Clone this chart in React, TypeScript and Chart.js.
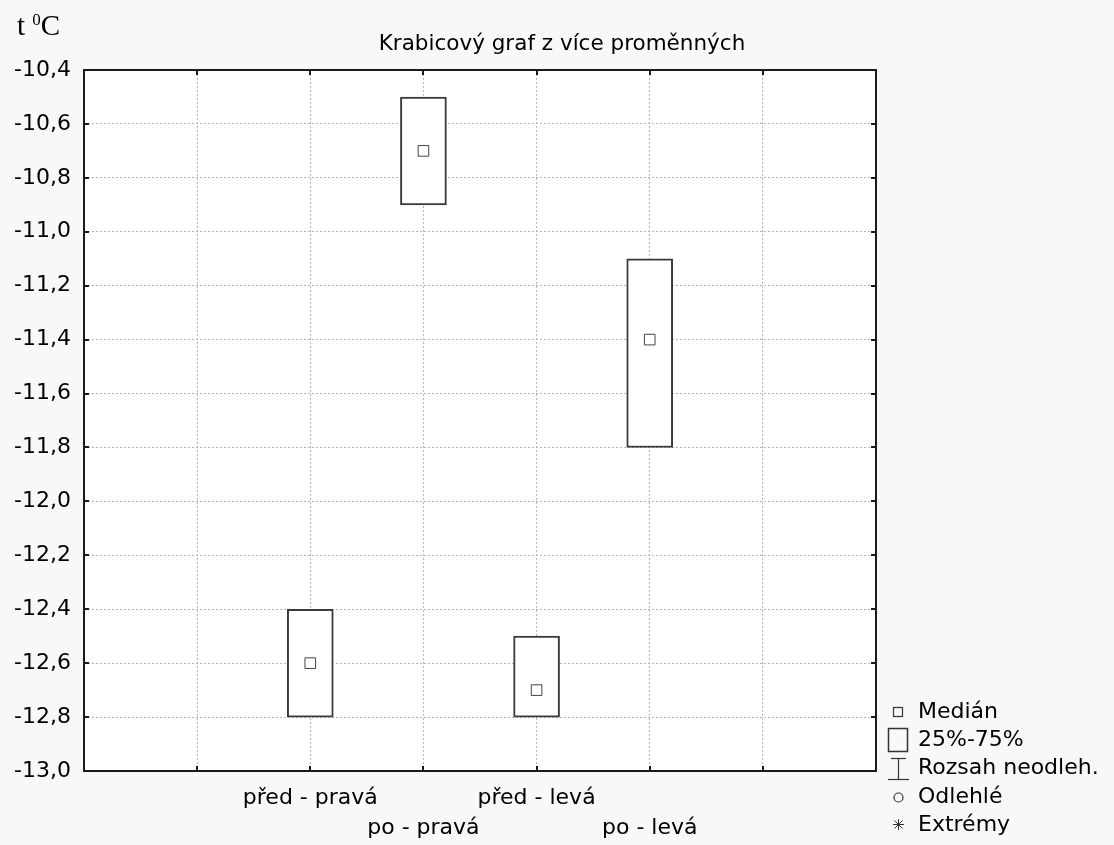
import React, { useEffect, useRef } from "react";
import { Chart, registerables } from "chart.js";

Chart.register(...registerables);

const TITLE = "Krabicový graf z více proměnných";
const CATEGORIES = ["před - pravá", "po - pravá", "před - levá", "po - levá"];
const CAT_POS = [2, 3, 4, 5];
const Q25 = [-12.8, -10.9, -12.8, -11.8];
const Q75 = [-12.4, -10.5, -12.5, -11.1];
const MEDIAN = [-12.6, -10.7, -12.7, -11.4];
const X_TICKS = [0, 1, 2, 3, 4, 5, 6, 7];
const Y_TICKS = [-13.0, -12.8, -12.6, -12.4, -12.2, -12.0, -11.8, -11.6, -11.4, -11.2, -11.0, -10.8, -10.6, -10.4];
const LEGEND = ["Medián", "25%-75%", "Rozsah neodleh.", "Odlehlé", "Extrémy"];

const FONT = "'DejaVu Sans', sans-serif";

const framePlugin = {
  id: "frame",
  beforeDraw(chart: any) {
    const { ctx, chartArea: a } = chart;
    ctx.save();
    ctx.fillStyle = "#ffffff";
    ctx.fillRect(a.left, a.top, a.right - a.left, a.bottom - a.top);
    ctx.restore();
  },
  afterDraw(chart: any) {
    const { ctx, chartArea: a } = chart;
    const xs = chart.scales.x;
    const ys = chart.scales.y;
    ctx.save();
    ctx.strokeStyle = "#1a1a1a";
    ctx.lineWidth = 2;
    ctx.strokeRect(a.left, a.top, a.right - a.left, a.bottom - a.top);
    ctx.lineWidth = 2;
    ctx.beginPath();
    X_TICKS.slice(1, -1).forEach((v) => {
      const px = Math.round(xs.getPixelForValue(v));
      ctx.moveTo(px, a.bottom);
      ctx.lineTo(px, a.bottom - 5);
      ctx.moveTo(px, a.top);
      ctx.lineTo(px, a.top + 5);
    });
    Y_TICKS.slice(1, -1).forEach((v) => {
      const py = Math.round(ys.getPixelForValue(v));
      ctx.moveTo(a.left, py);
      ctx.lineTo(a.left + 5, py);
      ctx.moveTo(a.right, py);
      ctx.lineTo(a.right - 5, py);
    });
    ctx.stroke();
    ctx.restore();
  },
};

export default function App() {
  const ref = useRef<HTMLCanvasElement>(null);

  useEffect(() => {
    const canvas = ref.current;
    if (!canvas) return;
    const boxes = CAT_POS.map((x, i) => ({ x, y: [Q25[i], Q75[i]] }));
    const medians = CAT_POS.map((x, i) => ({ x, y: MEDIAN[i] }));
    const chart = new Chart(canvas, {
      type: "bar",
      data: {
        datasets: [
          {
            type: "scatter",
            label: "Medián",
            data: medians as any,
            pointStyle: "rect",
            radius: 7.5,
            pointBackgroundColor: "#ffffff",
            pointBorderColor: "#444444",
            pointBorderWidth: 1,
            order: 0,
          } as any,
          {
            type: "bar",
            label: "25%-75%",
            data: boxes as any,
            backgroundColor: "#ffffff",
            borderColor: "#3a3a3a",
            borderWidth: 2,
            borderSkipped: false,
            barThickness: 46,
            order: 1,
          } as any,
        ],
      },
      options: {
        responsive: false,
        animation: false,
        devicePixelRatio: 1,
        layout: { padding: { left: 0, right: 238, top: 70, bottom: 0 } },
        plugins: {
          legend: { display: false },
          tooltip: { enabled: false },
          title: { display: false },
        },
        scales: {
          x: {
            type: "linear",
            min: 0,
            max: 7,
            offset: false,
            afterBuildTicks: (s: any) => {
              s.ticks = X_TICKS.map((v) => ({ value: v }));
            },
            afterFit: (s: any) => {
              s.height = 74;
            },
            grid: { color: "#b4b4b4", lineWidth: 1, drawTicks: false, offset: false },
            border: { display: false, dash: [2, 2] },
            ticks: {
              autoSkip: false,
              maxRotation: 0,
              padding: 12,
              color: "#000000",
              font: { family: FONT, size: 22, lineHeight: 1.36 },
              callback: (v: any) => {
                const i = CAT_POS.indexOf(Number(v));
                if (i < 0) return "";
                return i % 2 === 0 ? [CATEGORIES[i]] : ["", CATEGORIES[i]];
              },
            },
          },
          y: {
            type: "linear",
            min: -13.0,
            max: -10.4,
            afterBuildTicks: (s: any) => {
              s.ticks = Y_TICKS.map((v) => ({ value: v }));
            },
            afterFit: (s: any) => {
              s.width = 84;
            },
            grid: { color: "#b4b4b4", lineWidth: 1, drawTicks: false },
            border: { display: false, dash: [2, 2] },
            ticks: {
              padding: 13,
              color: "#000000",
              font: { family: FONT, size: 22 },
              callback: (v: any) => Number(v).toFixed(1).replace(".", ","),
            },
          },
        },
      } as any,
      plugins: [framePlugin],
    });
    return () => chart.destroy();
  }, []);

  const legendTops = [700, 728, 756, 785, 813];

  return (
    <div
      style={{
        position: "absolute",
        left: 0,
        top: 0,
        width: 1114,
        height: 845,
        background: "#f8f8f8",
        overflow: "hidden",
      }}
    >
      <canvas ref={ref} width={1114} height={845} style={{ position: "absolute", left: 0, top: 0, width: 1114, height: 845 }} />
      <div
        style={{
          position: "absolute",
          left: 0,
          width: 1124,
          top: 31,
          textAlign: "center",
          fontFamily: FONT,
          fontSize: 21.5,
          lineHeight: "24px",
          color: "#000",
          whiteSpace: "nowrap",
        }}
      >
        {TITLE}
      </div>
      <div
        style={{
          position: "absolute",
          left: 17,
          top: 8,
          fontFamily: "'Liberation Serif', 'Times New Roman', serif",
          fontSize: 29,
          lineHeight: "34px",
          color: "#000",
          whiteSpace: "nowrap",
        }}
      >
        t <span style={{ fontSize: 17, position: "relative", top: -10 }}>0</span>C
      </div>
      <svg
        width={40}
        height={140}
        style={{ position: "absolute", left: 880, top: 700 }}
        viewBox="880 700 40 140"
      >
        <g stroke="#333" fill="none" strokeWidth={1.2}>
          <rect x={893.5} y={707.5} width={9} height={9} />
          <rect x={888.5} y={728.5} width={19} height={23} strokeWidth={1.5} />
          <line x1={891} y1={758.5} x2={906} y2={758.5} />
          <line x1={898.5} y1={758.5} x2={898.5} y2={779.5} />
          <line x1={888} y1={779.5} x2={909} y2={779.5} />
          <circle cx={898.5} cy={797.5} r={4.5} />
          <line x1={893} y1={824.5} x2={904} y2={824.5} strokeWidth={1} />
          <line x1={898.5} y1={819} x2={898.5} y2={830} strokeWidth={1} />
          <line x1={894.5} y1={820.5} x2={902.5} y2={828.5} strokeWidth={1} />
          <line x1={902.5} y1={820.5} x2={894.5} y2={828.5} strokeWidth={1} />
        </g>
      </svg>
      {LEGEND.map((t, i) => (
        <div
          key={t}
          style={{
            position: "absolute",
            left: 918,
            top: legendTops[i],
            fontFamily: FONT,
            fontSize: 22,
            lineHeight: "22px",
            color: "#000",
            whiteSpace: "nowrap",
          }}
        >
          {t}
        </div>
      ))}
    </div>
  );
}
